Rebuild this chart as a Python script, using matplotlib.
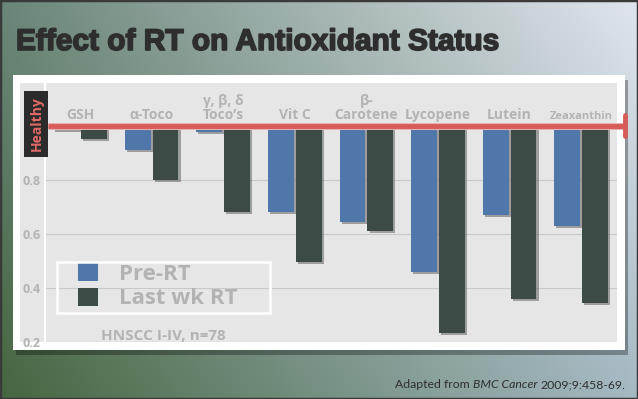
import numpy as np
import matplotlib
matplotlib.use('Agg')
import matplotlib.pyplot as plt
from matplotlib.patches import Rectangle, Patch
import matplotlib.patheffects as pe

categories = ['GSH', '\u03b1-Toco', '\u03b3, \u03b2, \u03b4\nToco\u2019s', 'Vit C',
              '\u03b2-\nCarotene', 'Lycopene', 'Lutein', 'Zeaxanthin']
pre_rt = [0.985, 0.911, 0.978, 0.681, 0.644, 0.459, 0.670, 0.630]
last_wk_rt = [0.952, 0.800, 0.681, 0.496, 0.611, 0.233, 0.359, 0.344]
series_names = ['Pre-RT', 'Last wk RT']
yticks = [0.2, 0.4, 0.6, 0.8]

W, H = 638, 399
c_pre = '#4f77a9'
c_last = '#3c4b46'
c_label = '#b3b3b3'
c_red = '#d65b59'
fnt = ['Open Sans', 'DejaVu Sans']


def fx(x):
    return x / W


def fy(y):
    return 1 - y / H


fig = plt.figure(figsize=(W / 100, H / 100), dpi=100)

# slide background gradient
bg = fig.add_axes([0, 0, 1, 1], zorder=-10)
tl, tr = np.array([107, 134, 121]), np.array([224, 229, 237])
bl, br = np.array([70, 102, 64]), np.array([165, 185, 196])
u = np.linspace(0, 1, 200)[None, :, None]
v = np.linspace(0, 1, 130)[:, None, None]
img = (tl * (1 - u) + tr * u) * (1 - v) + (bl * (1 - u) + br * u) * v
bg.imshow(img / 255, aspect='auto', extent=[0, 1, 0, 1], interpolation='bilinear')
bg.set_xlim(0, 1)
bg.set_ylim(0, 1)
bg.axis('off')
bg.add_patch(Rectangle((0, 0), 1, 1, fill=False, edgecolor='#3a3a3a', lw=2.5,
                       transform=bg.transAxes))

# white card with shadow, grey panel
fig.patches.append(Rectangle((fx(16), fy(355)), fx(612), 275 / H, transform=fig.transFigure,
                             facecolor='black', alpha=0.3, zorder=-5))
fig.patches.append(Rectangle((fx(13), fy(350)), fx(612), 275 / H, transform=fig.transFigure,
                             facecolor='white', zorder=-4))
fig.patches.append(Rectangle((fx(20), fy(342)), fx(26), 259 / H, transform=fig.transFigure,
                             facecolor='#e6e6e6', zorder=-3))

ax = fig.add_axes([fx(45), fy(342), fx(572), 259 / H])
ax.set_facecolor('#e6e6e6')
x = np.arange(len(categories))
width = 0.36
shadow = [pe.SimplePatchShadow(offset=(1.5, -1.5), shadow_rgbFace='#555555', alpha=0.5),
          pe.Normal()]
b1 = ax.bar(x - 0.195, np.array(pre_rt) - 1, width, bottom=1, color=c_pre, zorder=3)
b2 = ax.bar(x + 0.195, np.array(last_wk_rt) - 1, width, bottom=1, color=c_last, zorder=3)
for b in list(b1) + list(b2):
    b.set_path_effects(shadow)

ax.set_xlim(-0.489, 7.5)
ax.set_ylim(0.2, 1.159)
ax.set_xticks([])
ax.set_yticks(yticks)
ax.set_yticklabels(['%.1f' % t for t in yticks], fontfamily=fnt, fontweight='bold')
ax.tick_params(axis='y', length=0, pad=3, labelsize=9, labelcolor=c_label)
ax.yaxis.grid(True, color='#c9c9c9', lw=0.8, zorder=1)
for s in ['top', 'right', 'bottom']:
    ax.spines[s].set_visible(False)
ax.spines['left'].set_color('white')
ax.spines['left'].set_linewidth(1.5)

# healthy reference line
ax.plot([-0.447, 7.61], [1, 1], color=c_red, lw=3.5, zorder=5, clip_on=False,
        solid_capstyle='butt', path_effects=[pe.withStroke(linewidth=5, foreground='#e9b0ae')])
ax.plot([7.61, 7.61], [0.962, 1.04], color=c_red, lw=3.5, zorder=5, clip_on=False,
        solid_capstyle='round')

for i, name in enumerate(categories):
    size = 8 if name == 'Zeaxanthin' else 10
    ax.text(x[i], 1.016, name, ha='center', va='bottom', fontsize=size, color=c_label,
            fontfamily=fnt, fontweight='bold', linespacing=1.0, zorder=6)

# legend: box drawn separately so the entries can sit inset
ax.add_patch(Rectangle((12 / 572, 29 / 259), 213 / 572, 51 / 259, transform=ax.transAxes,
                       facecolor='none', edgecolor='white', lw=1.8, zorder=7))
leg = ax.legend([Patch(facecolor=c_pre), Patch(facecolor=c_last)], series_names,
                loc='upper left', bbox_to_anchor=(33 / 572, 79 / 259), frameon=False,
                prop={'family': fnt, 'weight': 'bold', 'size': 16}, labelcolor=c_label,
                handlelength=0.9, handleheight=0.9, handletextpad=0.95, labelspacing=0.12,
                borderpad=0, borderaxespad=0)

ax.text(1.17, 0.222, 'HNSCC I-IV, n=78', ha='center', va='center', fontsize=11,
        color=c_label, fontfamily=fnt, fontweight='bold')

# Healthy tag
fig.patches.append(Rectangle((fx(24), fy(157)), fx(24), 66 / H, transform=fig.transFigure,
                             facecolor='#2b2b2b', zorder=10))
fig.text(fx(36.5), fy(124), 'Healthy', rotation=90, ha='center', va='center', fontsize=10,
         color='#e06a68', fontfamily=fnt, fontweight='bold', zorder=11)

# title
fig.text(fx(16), fy(50), 'Effect of RT on Antioxidant Status', ha='left', va='baseline',
         fontsize=21.5, fontfamily='Liberation Sans', fontweight='bold', color='#2e2e2e',
         path_effects=[pe.withStroke(linewidth=1.2, foreground='#2e2e2e')])

# source note (mixed italic)
r = fig.canvas.get_renderer()
x_right = fx(625)
parts = [('2009;9:458-69.', 'normal'), ('BMC Cancer ', 'italic'), ('Adapted from ', 'normal')]
for txt, style in parts:
    t = fig.text(x_right, fy(388), txt, ha='right', va='baseline', fontsize=8.8,
                 fontfamily=['Lato', 'DejaVu Sans'], fontstyle=style, color='#2f2f2f')
    bb = t.get_window_extent(renderer=r)
    x_right -= bb.width / W

fig.savefig('out.png', dpi=100)
